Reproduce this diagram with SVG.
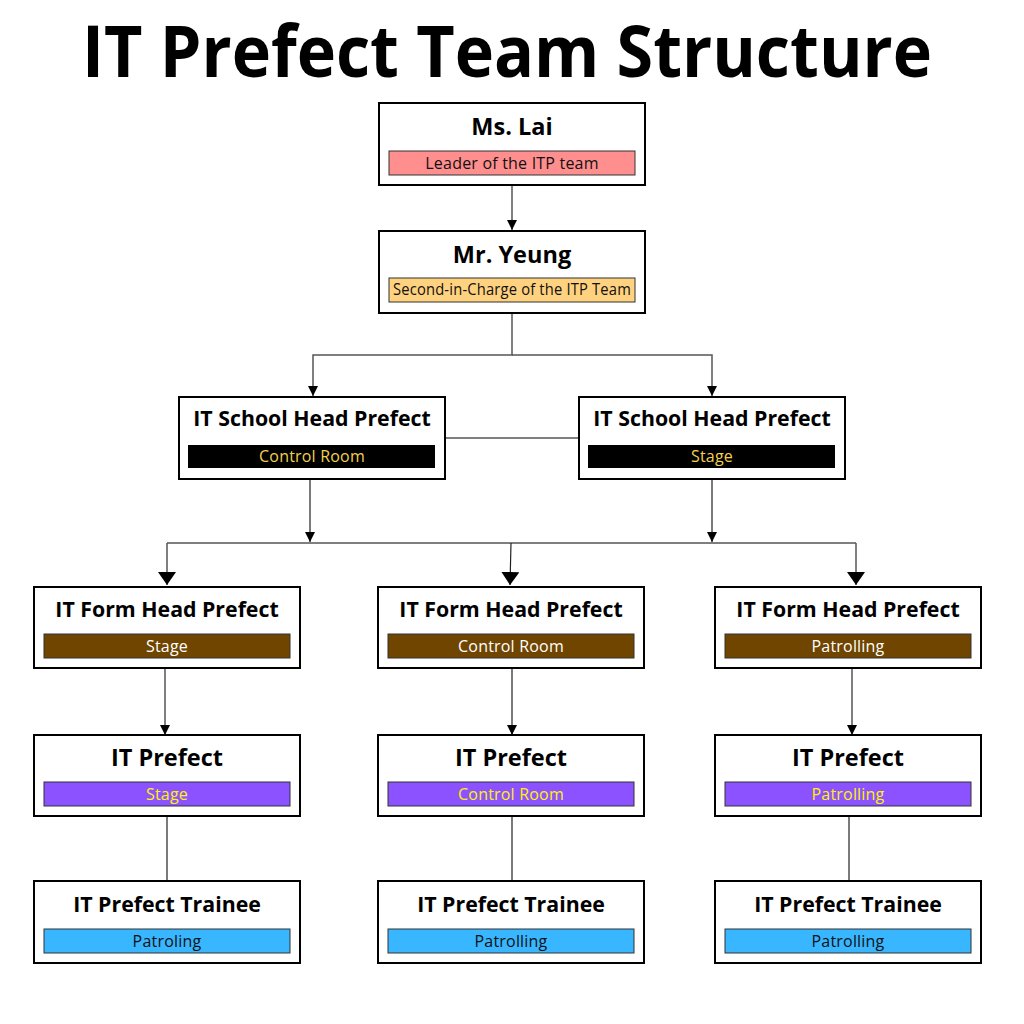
<svg xmlns="http://www.w3.org/2000/svg" width="1024" height="1024" viewBox="0 0 1024 1024">
<style>
.box{fill:#fff;stroke:#000;stroke-width:2}
.lab{stroke:#333;stroke-width:1}
.t{font-family:"Open Sans","Liberation Sans",sans-serif;font-weight:700;font-size:21.3px;fill:#000;text-anchor:middle}
.t2{font-family:"Open Sans","Liberation Sans",sans-serif;font-weight:700;font-size:23.5px;fill:#000;text-anchor:middle}
.l{font-family:"Open Sans","Liberation Sans",sans-serif;font-size:16px;letter-spacing:0.2px;text-anchor:middle}
.c{fill:none;stroke:#555;stroke-width:1.5}
.c2{fill:none;stroke:#222;stroke-width:1.2}
</style>
<defs>
<marker id="ah" viewBox="0 0 10 10" refX="10" refY="5" markerWidth="10" markerHeight="10" markerUnits="userSpaceOnUse" orient="auto"><path d="M0,0L10,5L0,10z" fill="#000"/></marker>
<marker id="ahb" viewBox="0 0 10 10" refX="10" refY="5" markerWidth="13" markerHeight="18" markerUnits="userSpaceOnUse" orient="auto" preserveAspectRatio="none"><path d="M0,0L10,5L0,10z" fill="#000"/></marker>
</defs>
<rect width="1024" height="1024" fill="#fff"/>
<text x="507" y="77" font-family="'Open Sans','Liberation Sans',sans-serif" font-weight="700" font-size="72" text-anchor="middle" fill="#000" textLength="850" lengthAdjust="spacingAndGlyphs">IT Prefect Team Structure</text>

<g id="connectors">
<line class="c" x1="512" y1="185" x2="512" y2="230" marker-end="url(#ah)"/>
<polyline class="c" points="512,313 512,355 313,355 313,396" marker-end="url(#ah)"/>
<polyline class="c" points="512,355 712,355 712,396" marker-end="url(#ah)"/>
<line class="c" x1="445" y1="438" x2="579" y2="438"/>
<line class="c2" x1="310" y1="479" x2="310" y2="542" marker-end="url(#ah)"/>
<line class="c2" x1="712" y1="479" x2="712" y2="542" marker-end="url(#ah)"/>
<line class="c" x1="167" y1="543" x2="856" y2="543"/>
<line class="c" x1="167" y1="543" x2="167" y2="585" marker-end="url(#ahb)"/>
<line class="c" x1="856" y1="543" x2="856" y2="585" marker-end="url(#ahb)"/>
<line class="c2" x1="511" y1="543" x2="510" y2="585" marker-end="url(#ahb)"/>
<line class="c" x1="165" y1="668" x2="165" y2="735" marker-end="url(#ah)"/>
<line class="c2" x1="512" y1="668" x2="512" y2="735" marker-end="url(#ah)"/>
<line class="c" x1="852" y1="668" x2="852" y2="735" marker-end="url(#ah)"/>
<line class="c2" x1="167" y1="816" x2="167" y2="881"/>
<line class="c2" x1="512" y1="816" x2="512" y2="881"/>
<line class="c2" x1="849" y1="816" x2="849" y2="881"/>
</g>

<g id="ms-lai">
<rect class="box" x="379" y="103" width="266" height="82"/>
<text class="t2" x="512" y="135">Ms. Lai</text>
<rect class="lab" x="389" y="151" width="246" height="24" fill="#FF8F8F"/>
<text class="l" x="512" y="168.5" fill="#111">Leader of the ITP team</text>
</g>

<g id="mr-yeung">
<rect class="box" x="379" y="231" width="266" height="82"/>
<text class="t2" x="512" y="263">Mr. Yeung</text>
<rect class="lab" x="389" y="278" width="246" height="24" fill="#FFD27F"/>
<text class="l" x="512" y="295" fill="#111" font-size="14" letter-spacing="0" textLength="238" lengthAdjust="spacingAndGlyphs">Second-in-Charge of the ITP Team</text>
</g>

<g id="school-head-control">
<rect class="box" x="179" y="397" width="266" height="82"/>
<text class="t" x="312" y="426">IT School Head Prefect</text>
<rect x="188" y="445" width="247" height="23" fill="#000"/>
<text class="l" x="312" y="462" fill="#F2D14B">Control Room</text>
</g>

<g id="school-head-stage">
<rect class="box" x="579" y="397" width="266" height="82"/>
<text class="t" x="712" y="426">IT School Head Prefect</text>
<rect x="588" y="445" width="247" height="23" fill="#000"/>
<text class="l" x="712" y="462" fill="#F2D14B">Stage</text>
</g>

<g id="form-head-stage">
<rect class="box" x="34" y="587" width="266" height="81"/>
<text class="t" x="167" y="617">IT Form Head Prefect</text>
<rect class="lab" x="44" y="634" width="246" height="24" fill="#6F4500"/>
<text class="l" x="167" y="651.5" fill="#fff">Stage</text>
</g>

<g id="form-head-control">
<rect class="box" x="378" y="587" width="266" height="81"/>
<text class="t" x="511" y="617">IT Form Head Prefect</text>
<rect class="lab" x="388" y="634" width="246" height="24" fill="#6F4500"/>
<text class="l" x="511" y="651.5" fill="#fff">Control Room</text>
</g>

<g id="form-head-patrol">
<rect class="box" x="715" y="587" width="266" height="81"/>
<text class="t" x="848" y="617">IT Form Head Prefect</text>
<rect class="lab" x="725" y="634" width="246" height="24" fill="#6F4500"/>
<text class="l" x="848" y="651.5" fill="#fff">Patrolling</text>
</g>

<g id="prefect-stage">
<rect class="box" x="34" y="735" width="266" height="81"/>
<text class="t2" x="167" y="766">IT Prefect</text>
<rect class="lab" x="44" y="782" width="246" height="24" fill="#8C52FF"/>
<text class="l" x="167" y="799.5" fill="#FFF200">Stage</text>
</g>

<g id="prefect-control">
<rect class="box" x="378" y="735" width="266" height="81"/>
<text class="t2" x="511" y="766">IT Prefect</text>
<rect class="lab" x="388" y="782" width="246" height="24" fill="#8C52FF"/>
<text class="l" x="511" y="799.5" fill="#FFF200">Control Room</text>
</g>

<g id="prefect-patrol">
<rect class="box" x="715" y="735" width="266" height="81"/>
<text class="t2" x="848" y="766">IT Prefect</text>
<rect class="lab" x="725" y="782" width="246" height="24" fill="#8C52FF"/>
<text class="l" x="848" y="799.5" fill="#FFF200">Patrolling</text>
</g>

<g id="trainee-1">
<rect class="box" x="34" y="881" width="266" height="82"/>
<text class="t" x="167" y="912">IT Prefect Trainee</text>
<rect class="lab" x="44" y="929" width="246" height="24" fill="#38B6FF"/>
<text class="l" x="167" y="946.5" fill="#111">Patroling</text>
</g>

<g id="trainee-2">
<rect class="box" x="378" y="881" width="266" height="82"/>
<text class="t" x="511" y="912">IT Prefect Trainee</text>
<rect class="lab" x="388" y="929" width="246" height="24" fill="#38B6FF"/>
<text class="l" x="511" y="946.5" fill="#111">Patrolling</text>
</g>

<g id="trainee-3">
<rect class="box" x="715" y="881" width="266" height="82"/>
<text class="t" x="848" y="912">IT Prefect Trainee</text>
<rect class="lab" x="725" y="929" width="246" height="24" fill="#38B6FF"/>
<text class="l" x="848" y="946.5" fill="#111">Patrolling</text>
</g>
</svg>
